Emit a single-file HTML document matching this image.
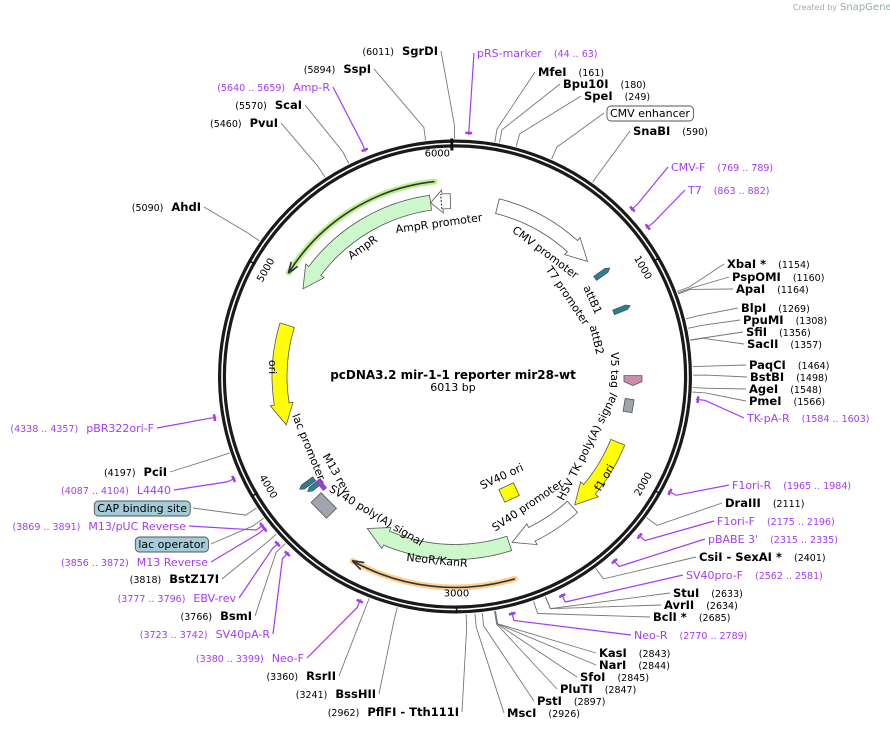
<!DOCTYPE html>
<html><head><meta charset="utf-8"><style>
html,body{margin:0;padding:0;background:#fff}
svg{display:block;font-family:"DejaVu Sans","Liberation Sans",sans-serif}
</style></head><body>
<svg id="map" width="890" height="729" viewBox="0 0 890 729" xmlns="http://www.w3.org/2000/svg">
<text x="793" y="10" font-size="8" fill="#aaa">Created by</text>
<text x="840" y="10" font-size="10" fill="#9aa">SnapGene</text>
<g id="lines"></g>
<g id="ring">
<circle cx="455" cy="376.5" r="233" fill="none" stroke="#1a1a1a" stroke-width="8"/>
<circle cx="455" cy="376.5" r="233" fill="none" stroke="#fff" stroke-width="1.6"/>
</g>
<g id="feats"></g>
<g id="labels"></g>
<text x="453" y="379" text-anchor="middle" font-size="12" font-weight="bold">pcDNA3.2 mir-1-1 reporter mir28-wt</text>
<text x="453" y="391" text-anchor="middle" font-size="11">6013 bp</text>
</svg>
<script>
const TOTAL=6013;
const CX=455,CY=376.5;
// tick positions
const tickBp=[1000,2000,3000,4000,5000,6000];
// enzyme / primer labels: name, number text, bp, label x, label y, side, kind
const labelNames=["SgrDI","SspI","Amp-R","ScaI","PvuI","AhdI","pBR322ori-F","PciI","L4440","CAP binding site","M13/pUC Reverse","lac operator","M13 Reverse","BstZ17I","EBV-rev","BsmI","SV40pA-R","Neo-F","RsrII","BssHII","PflFI - Tth111I",
"pRS-marker","MfeI","Bpu10I","SpeI","CMV enhancer","SnaBI","CMV-F","T7","XbaI *","PspOMI","ApaI","BlpI","PpuMI","SfiI","SacII","PaqCI","BstBI","AgeI","PmeI","TK-pA-R","F1ori-R","DraIII","F1ori-F","pBABE 3'","CsiI - SexAI *","SV40pro-F","StuI","AvrII","BclI *","Neo-R","KasI","NarI","SfoI","PluTI","PstI","MscI"];
const labelNums=["(6011)","(5894)","(5640 .. 5659)","(5570)","(5460)","(5090)","(4338 .. 4357)","(4197)","(4087 .. 4104)","","(3869 .. 3891)","","(3856 .. 3872)","(3818)","(3777 .. 3796)","(3766)","(3723 .. 3742)","(3380 .. 3399)","(3360)","(3241)","(2962)",
"(44 .. 63)","(161)","(180)","(249)","","(590)","(769 .. 789)","(863 .. 882)","(1154)","(1160)","(1164)","(1269)","(1308)","(1356)","(1357)","(1464)","(1498)","(1548)","(1566)","(1584 .. 1603)","(1965 .. 1984)","(2111)","(2175 .. 2196)","(2315 .. 2335)","(2401)","(2562 .. 2581)","(2633)","(2634)","(2685)","(2770 .. 2789)","(2843)","(2844)","(2845)","(2847)","(2897)","(2926)"];
const labelBp=[6011,5894,5650,5570,5460,5090,4348,4197,4095,3950,3880,3900,3864,3818,3786,3766,3732,3390,3360,3241,2962,
54,161,180,249,400,590,779,872,1154,1160,1164,1269,1308,1356,1357,1464,1498,1548,1566,1594,1975,2111,2185,2325,2401,2571,2633,2634,2685,2780,2843,2844,2845,2847,2897,2926];
const labelX=[438,371,330,302,278,201,154,167,171,187,186,205,208,219,236,252,270,304,336,376,459,
477,538,563,584,610,633,671,688,727,732,736,741,743,746,747,749,750,749,749,747,732,725,717,708,699,686,673,664,653,634,599,599,580,560,537,507];
const labelY=[55,73,91,109,127,211,432,476,494,512,530,548,566,583,602,620,638,662,680,698,716,
57,76,88,100,117,135,171,194,268,281,293,312,324,336,348,369,381,393,405,422,489,507,525,543,561,579,597,609,621,639,657,669,681,693,705,717];
const labelKind=["e","e","p","e","e","e","p","e","p","b","p","b","p","e","p","e","p","p","e","e","e",
"p","e","e","e","w","e","p","p","e","e","e","e","e","e","e","e","e","e","e","p","p","e","p","p","e","p","e","e","e","p","e","e","e","e","e","e"];
const leftCount=21;

// features (degrees clockwise from top)
const featNames=["AmpR","AmpR promoter","CMV promoter","ori","f1 ori","SV40 promoter","NeoR/KanR"];
const featStart=[352,358.5,14,287,112,138,162];
const featEnd=[300,352,49,254,137,161,210];
const featFill=["#ccf8cc","#fff","#fff","#ffff00","#ffff00","#fff","#ccf8cc"];

const NS="http://www.w3.org/2000/svg";
function mk(tag,attrs,parent){const e=document.createElementNS(NS,tag);for(const k in attrs)e.setAttribute(k,attrs[k]);parent.appendChild(e);return e;}
function pa(deg,r){const a=deg*Math.PI/180;return [CX+r*Math.sin(a),CY-r*Math.cos(a)];}
function bpAng(bp){return bp/TOTAL*360;}
const lines=document.getElementById('lines'),feats=document.getElementById('feats'),labs=document.getElementById('labels');

function band(s,e,r1,r2,fill,stroke){
  const dir=e>s?1:-1, head=Math.min(7,Math.abs(e-s)*0.6), hb=e-dir*head;
  const rm=(r1+r2)/2, w=4;
  const p=(d,r)=>pa(d,r).map(v=>v.toFixed(1)).join(',');
  const sw=dir>0?1:0;
  let d=`M${p(s,r2)} A${r2},${r2} 0 0 ${sw} ${p(hb,r2)} L${p(hb,r2+w)} L${p(e,rm)} L${p(hb,r1-w)} L${p(hb,r1)} A${r1},${r1} 0 0 ${1-sw} ${p(s,r1)} Z`;
  return mk('path',{d:d,fill:fill,stroke:stroke||'#555','stroke-width':0.8},feats);
}
for(let i=0;i<featNames.length;i++){
  const el=band(featStart[i],featEnd[i],168,183,featFill[i]);
  
  
}
function arcLine(s,e,r,col,glow,name){
  const dir=e>s?1:-1;const p=(d,rr)=>pa(d,rr).map(v=>v.toFixed(1)).join(',');
  const g=mk('g',{},feats);
  
  
  const d=`M${p(s,r)} A${r},${r} 0 0 ${dir>0?1:0} ${p(e,r)}`;
  mk('path',{d:d,fill:'none',stroke:glow,'stroke-width':6,'stroke-linecap':'round'},g);
  mk('path',{d:d,fill:'none',stroke:'#333','stroke-width':1.6},g);
  mk('path',{d:`M${p(e+dir*0.2,r)} L${p(e-dir*3,r+4)} M${p(e+dir*0.2,r)} L${p(e-dir*3,r-4)}`,stroke:'#333','stroke-width':1.6,fill:'none'},g);
}
arcLine(354,302,196,'#333','#b8f08c','ampr-orf-arc');
arcLine(163.5,209,211,'#333','#fcd090','neor-orf-arc');

function boxAt(deg,r,w,h,fill,name){const c=pa(deg,r);const e=mk('rect',{x:-w/2,y:-h/2,width:w,height:h,fill:fill,stroke:'#555','stroke-width':0.8,transform:`translate(${c[0]},${c[1]}) rotate(${deg})`},feats);
  
  }
boxAt(99.5,176,13,9,'#a0a4ac','hsv-tk-polya-box');
boxAt(225.5,184,22,14,'#a0a4ac','sv40-polya-box');
boxAt(155,128,16,14,'#ffff00','sv40-ori-box');
(function(){const c=pa(91,178);const e=mk('polygon',{points:'-4,-9 2,-9 6,0 2,9 -4,9',fill:'#c890a8',stroke:'#555','stroke-width':0.8,transform:`translate(${c[0]},${c[1]}) rotate(90)`},feats);
 
 })();
function teal(deg,r,name){const c=pa(deg,r);const e=mk('polygon',{points:'-9,-2.5 5,-2.5 9,0 5,2.5 -9,2.5',fill:'#2a7f90',stroke:'#444','stroke-width':0.6,transform:`translate(${c[0]},${c[1]}) rotate(${deg-90})`},feats);
 
 }
teal(55,180,'attb1-feature');teal(68,180,'attb2-feature');
teal(234,183,'cap-site-feature');teal(232,178,'lac-operator-feature');
(function(){const c=pa(231,172);const e=mk('rect',{x:-6,y:-2.5,width:12,height:5,fill:'#9a3cd0',transform:`translate(${c[0]},${c[1]}) rotate(231)`},feats);
 
 })();
(function(){const a=pa(355.5,168),b=pa(355.5,183);mk('line',{x1:a[0],y1:a[1],x2:b[0],y2:b[1],stroke:'#222','stroke-dasharray':'2,1.5'},feats);})();

const ftext=[["AmpR promoter",439,224,-8],["AmpR",363,248,-35],["CMV promoter",545,253,37],["T7 promoter",567,296,56],["attB1",592,300,66],["attB2",596,340,76],["V5 tag",614,370,90],
["HSV TK poly(A) signal",588,447,-63],["f1 ori",605,478,-60],["SV40 ori",502,477,-25],["SV40 promoter",528,506,-34],["NeoR/KanR",437,561,6],["SV40 poly(A) signal",376,516,31],
["M13 rev",336,474,60],["lac promoter",308,447,68],["ori",272,367,90]];
ftext.forEach(t=>{const e=mk('text',{x:0,y:0,'font-size':11,'text-anchor':'middle','dominant-baseline':'middle',transform:`translate(${t[1]},${t[2]}) rotate(${t[3]})`},feats);e.textContent=t[0];
  
  });

tickBp.forEach((b,i)=>{const a=bpAng(b);const big=b===6000;const p1=pa(a,big?226:229),p2=pa(a,big?238:237);
  const t=mk('line',{x1:p1[0],y1:p1[1],x2:p2[0],y2:p2[1],stroke:'#111','stroke-width':big?3:1.5},feats);
  
  
  const lp=pa(a,big?218:217);let rot=a>90&&a<270?a-180:a;if(b===6000||b===3000)rot=0;
  const tx=mk('text',{x:0,y:0,'font-size':10,'text-anchor':big?'end':'middle','dominant-baseline':'middle',transform:`translate(${big?lp[0]-2:lp[0]},${big?lp[1]-5:lp[1]}) rotate(${b===5000?-90+a-270:rot})`},feats);
  if(b===4000){tx.setAttribute('transform',`translate(${lp[0]},${lp[1]}) rotate(${a-180})`);}
  tx.textContent=String(b);
  
  
});

const PURPLE='#a23cf0';
for(let i=0;i<labelNames.length;i++){
  const left=i<leftCount, kind=labelKind[i], a=bpAng(labelBp[i]);
  const g=mk('g',{},labs);
  
  
  const t=mk('text',{x:labelX[i],y:labelY[i],'text-anchor':left?'end':'start','font-size':11},g);
  const nm=document.createElementNS(NS,'tspan');nm.textContent=labelNames[i];
  const nu=document.createElementNS(NS,'tspan');nu.textContent=labelNums[i];nu.setAttribute('font-size','9.5');
  if(kind==='e'){nm.setAttribute('font-weight','bold');nm.setAttribute('font-size','11.5');}
  if(kind==='p'){t.setAttribute('fill',PURPLE);}
  if(left){ if(labelNums[i]){t.appendChild(nu);nm.setAttribute('dx','8');} t.appendChild(nm);}
  else{ t.appendChild(nm); if(labelNums[i]){nu.setAttribute('dx','12');t.appendChild(nu);} }
  let w=0;
  if(kind==='b'||kind==='w'){ const bb=t.getBBox(); mk('rect',{x:bb.x-3,y:bb.y-1,width:bb.width+6,height:bb.height+2,rx:4,fill:kind==='b'?'#a4ccd8':'#fff',stroke:'#555','stroke-width':0.9},g); g.appendChild(t); w=3;}
  let ex, ey=labelY[i]-4;
  if(left){ ex=labelX[i]+3+w; } else { ex=labelX[i]-3-w; }
  const p0=pa(a,kind==='p'?242:238), p1=pa(a,251);
  const col=kind==='p'?PURPLE:'#777';
  const ln=mk('polyline',{points:`${p0[0].toFixed(1)},${p0[1].toFixed(1)} ${p1[0].toFixed(1)},${p1[1].toFixed(1)} ${ex},${ey}`,fill:'none',stroke:col,'stroke-width':kind==='p'?1.2:0.9},lines);
  
  
  if(kind==='p'){ const q1=pa(a-0.8,244),q2=pa(a+0.8,244);
    const tk=mk('line',{x1:q1[0],y1:q1[1],x2:q2[0],y2:q2[1],stroke:PURPLE,'stroke-width':2.5},lines);
    
     }
}
</script>
</body></html>
